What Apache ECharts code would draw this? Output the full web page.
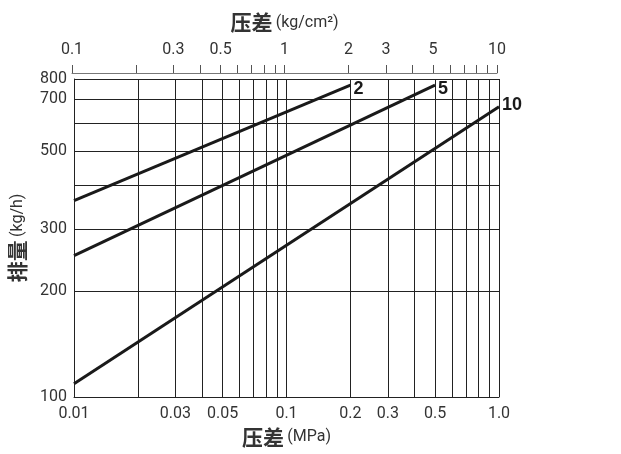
<!DOCTYPE html>
<html>
<head>
<meta charset="utf-8">
<script src="https://cdn.jsdelivr.net/npm/echarts@6/dist/echarts.min.js"></script>
<style>
  html, body { margin: 0; padding: 0; background: #fff; }
  #chart { width: 621px; height: 454px; }
</style>
</head>
<body>
<div id="chart"></div>
<script>
// 压差 (MPa) / 排量 (kg/h)
let mpaLines = [0.01, 0.02, 0.03, 0.04, 0.05, 0.06, 0.07, 0.08, 0.09, 0.1, 0.2, 0.3, 0.4, 0.5, 0.6, 0.7, 0.8, 0.9, 1.0];
let mpaLabels = [0.01, 0.03, 0.05, 0.1, 0.2, 0.3, 0.5, 1.0];
let kgTicks = [0.1, 0.2, 0.3, 0.4, 0.5, 0.6, 0.7, 0.8, 0.9, 1, 2, 3, 4, 5, 6, 7, 8, 9, 10];
let kgLabels = [0.1, 0.3, 0.5, 1, 2, 3, 5, 10];
let flowLines = [100, 200, 300, 400, 500, 600, 700, 800];
let flowLabels = [100, 200, 300, 500, 700, 800];

let line2 = [[0.01, 361], [0.2, 769]];
let line5 = [[0.01, 252], [0.5, 769]];
let line10 = [[0.01, 109], [1.0, 667]];

let txtColor = '#333';
let font = 'Roboto, "Noto Sans CJK SC", sans-serif';

let chart = echarts.init(document.getElementById('chart'));

function makeSeries(name, data, offset) {
    return {
        name: name,
        type: 'line',
        data: data,
        showSymbol: false,
        silent: true,
        clip: false,
        lineStyle: { color: '#1a1a1a', width: 3 },
        endLabel: {
            show: true,
            formatter: name,
            color: '#1a1a1a',
            fontWeight: 'bold',
            fontSize: 18,
            fontFamily: 'Liberation Sans, Arial, sans-serif',
            distance: 3,
            offset: offset
        }
    };
}

let nameRich = {
    a: { fontSize: 21, fontFamily: '"Noto Sans CJK SC", sans-serif', color: txtColor, fontWeight: 'bold' },
    b: { fontSize: 16, fontFamily: font, color: txtColor }
};

let option = {
    animation: false,
    backgroundColor: '#fff',
    grid: [
        { left: 74, right: 122, top: 79, height: 318, containLabel: false, outerBoundsMode: 'none' },
        { left: 72, right: 124, top: 72, height: 1, containLabel: false, outerBoundsMode: 'none' }
    ],
    xAxis: [
        {
            type: 'log',
            gridIndex: 0,
            min: 0.01,
            max: 1,
            name: '{a|压差} {b|(MPa)}',
            nameLocation: 'middle',
            nameGap: 30,
            nameTextStyle: { rich: nameRich },
            axisLine: { show: true, lineStyle: { color: '#222', width: 1 } },
            axisTick: { show: false, customValues: mpaLines },
            axisLabel: {
                customValues: mpaLabels,
                margin: 9,
                color: txtColor,
                fontSize: 16,
                fontFamily: font,
                formatter: function (v) { return v === 1 ? '1.0' : String(v); }
            },
            splitLine: { show: true, lineStyle: { color: '#222', width: 1 } }
        },
        {
            type: 'log',
            gridIndex: 1,
            position: 'top',
            min: 0.1,
            max: 10,
            name: '{a|压差} {b|(kg/cm²)}',
            nameLocation: 'middle',
            nameGap: 39,
            nameTextStyle: { rich: nameRich },
            axisLine: { show: true, lineStyle: { color: '#777', width: 1 } },
            axisTick: { show: true, length: 8, customValues: kgTicks, lineStyle: { color: '#555' } },
            axisLabel: {
                customValues: kgLabels,
                margin: 14,
                color: txtColor,
                fontSize: 16,
                fontFamily: font
            },
            splitLine: { show: false }
        }
    ],
    yAxis: [
        {
            type: 'log',
            gridIndex: 0,
            min: 100,
            max: 800,
            name: '{a|排量} {b|(kg/h)}',
            nameLocation: 'middle',
            nameGap: 46,
            nameTextStyle: { rich: nameRich },
            axisLine: { show: true, lineStyle: { color: '#222', width: 1 } },
            axisTick: { show: false, customValues: flowLines },
            axisLabel: {
                customValues: flowLabels,
                margin: 7,
                color: txtColor,
                fontSize: 16,
                fontFamily: font
            },
            splitLine: { show: true, lineStyle: { color: '#222', width: 1 } }
        },
        {
            type: 'value',
            gridIndex: 1,
            show: false
        }
    ],
    series: [
        makeSeries('2', line2, [0, 4]),
        makeSeries('5', line5, [0, 4]),
        makeSeries('10', line10, [0, -2])
    ]
};

chart.setOption(option);
</script>
</body>
</html>
